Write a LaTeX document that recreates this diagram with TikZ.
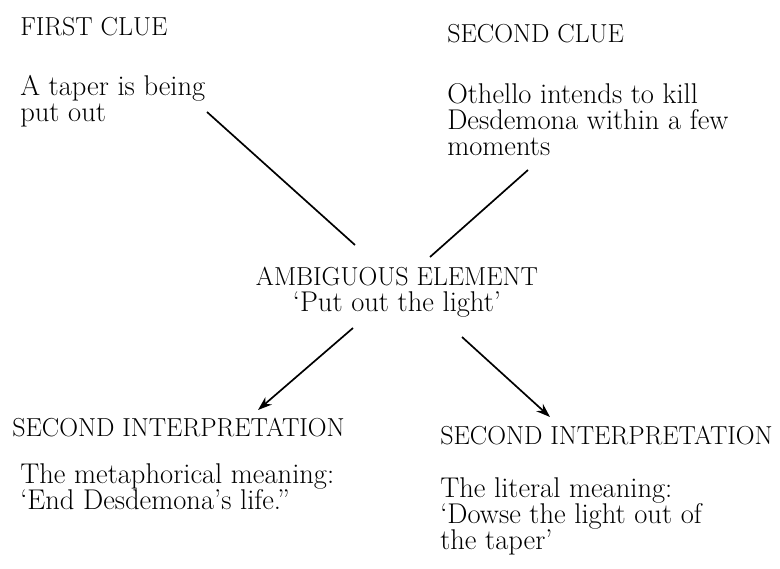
\documentclass[tikz,border=0pt]{standalone}
\usetikzlibrary{arrows.meta}

\begin{document}
\begin{tikzpicture}[x=0.025cm, y=-0.025cm, every node/.style={inner sep=0pt, align=left, font=\fontsize{20.3}{18.6}\selectfont}, head/.style={font=\fontsize{18.5}{18.6}\selectfont}, link/.style={line width=1.2pt}, pointer/.style={link, -{Stealth[length=10pt, width=7pt]}}]
\useasboundingbox (0,0) rectangle (780,569);
\node[head, anchor=base west] (firsthead) at (20,36) {FIRST CLUE};
\node[anchor=north west] (firstbody) at (20,75) {A taper is being\\put out};
\node[head, anchor=base west] (secondhead) at (447,43) {SECOND CLUE};
\node[anchor=north west] (secondbody) at (447,83) {Othello intends to kill\\Desdemona within a few\\moments};
\node[align=center] (ambig) at (397,292) {{\fontsize{18.5}{18.6}\selectfont AMBIGUOUS ELEMENT}\\`Put out the light'};
\node[head, anchor=base west] (leftinterp) at (12,436) {SECOND INTERPRETATION};
\node[anchor=north west] (leftbody) at (20,463) {The metaphorical meaning:\\`End Desdemona's life.''};
\node[head, anchor=base west] (rightinterp) at (440,444) {SECOND INTERPRETATION};
\node[anchor=north west] (rightbody) at (440,477) {The literal meaning:\\`Dowse the light out of\\the taper'};
\draw[link] ([shift={(187,37)}]firstbody.north west) -- ([shift={(-42,-47)}]ambig.center);
\draw[link] ([shift={(81,87)}]secondbody.north west) -- ([shift={(33,-35)}]ambig.center);
\draw[pointer] ([shift={(-44,36)}]ambig.center) -- ([shift={(246,-26)}]leftinterp.base west);
\draw[pointer] ([shift={(65,45)}]ambig.center) -- ([shift={(110,-27)}]rightinterp.base west);
\end{tikzpicture}
\end{document}
